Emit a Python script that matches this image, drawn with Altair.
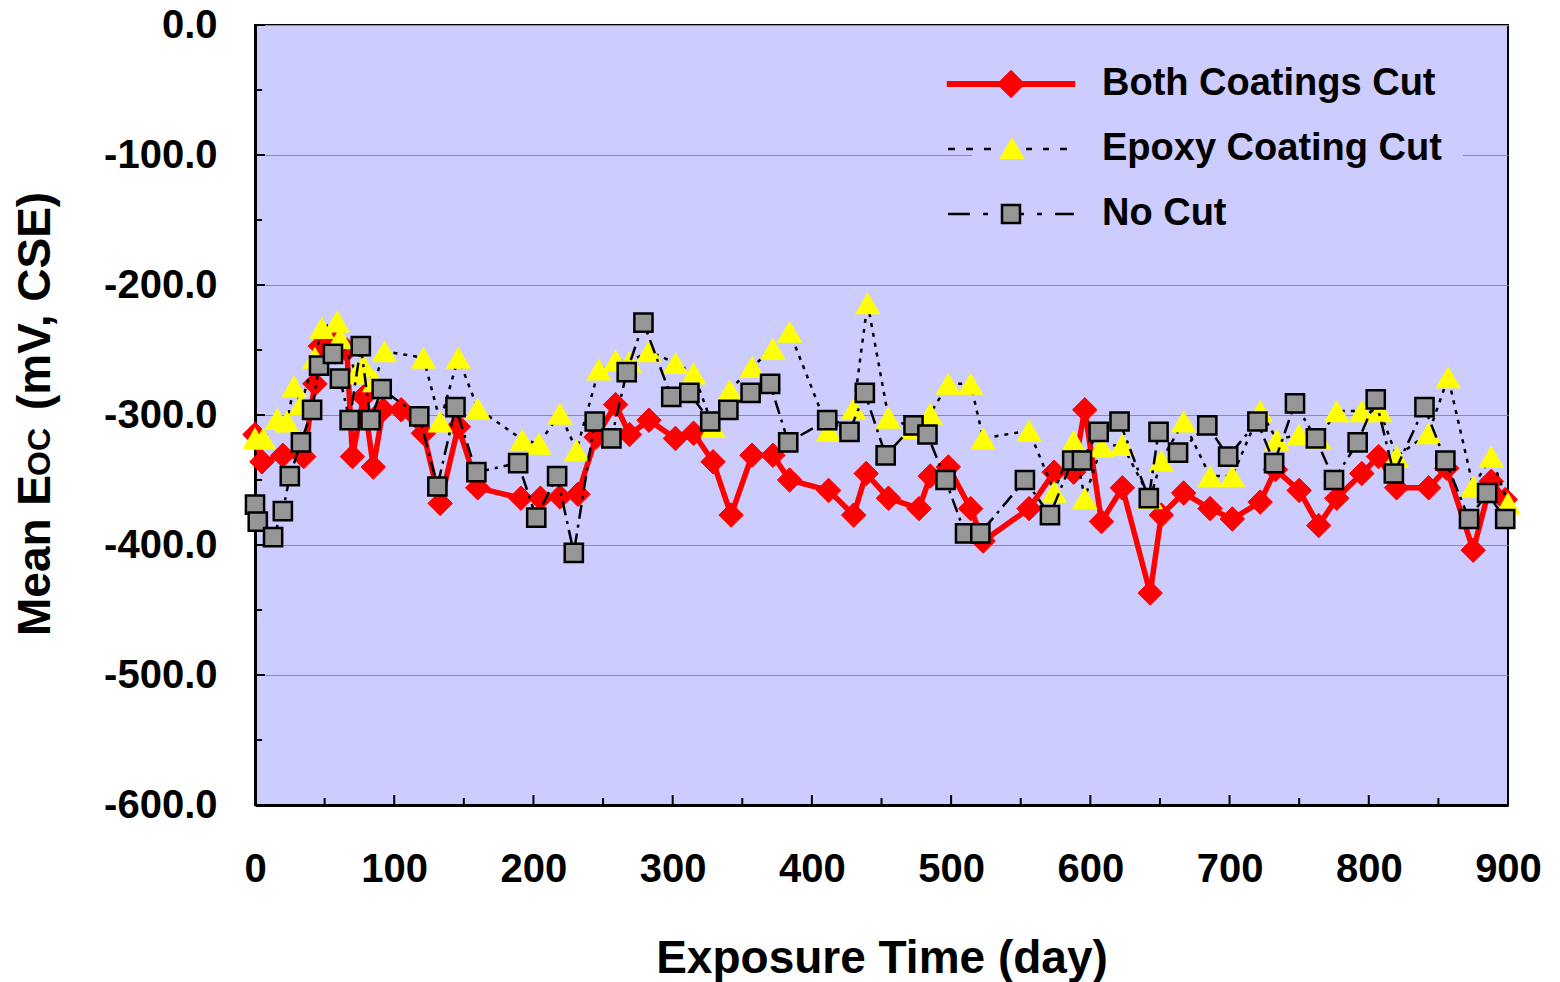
import altair as alt
import pandas as pd

# ---------------- data ----------------
both_day = [0, 5, 20, 35, 43, 47, 58, 66, 70, 78, 85, 92, 105, 121, 133, 146, 160, 191, 205, 219, 232,
            245, 259, 269, 283, 302, 315, 329, 342, 357, 372, 384, 412, 430, 439, 455, 477, 485, 498,
            514, 523, 556, 574, 588, 596, 608, 623, 643, 651, 667, 686, 702, 722, 733, 750, 764, 777,
            795, 807, 820, 843, 856, 875, 888, 898]
both_mv = [-315, -336, -331, -332, -276, -247, -244, -250, -332, -286, -340, -296, -296, -314, -368, -309,
           -356, -364, -364, -363, -361, -317, -292, -315, -304, -318, -314, -336, -377, -331, -331, -350,
           -358, -377, -345, -364, -372, -347, -340, -372, -397, -372, -344, -344, -296, -382, -356, -437,
           -377, -360, -372, -380, -367, -342, -358, -385, -364, -345, -332, -356, -356, -341, -404, -351,
           -365]

epoxy_day = [0, 6, 16, 23, 28, 33, 43, 48, 59, 61, 73, 78, 86, 93, 121, 133, 146, 160, 192, 204, 219,
             231, 247, 259, 269, 283, 302, 315, 329, 341, 357, 372, 384, 412, 430, 440, 455, 473, 485,
             498, 514, 523, 556, 574, 588, 596, 608, 623, 643, 651, 667, 686, 702, 722, 734, 750, 764,
             777, 795, 808, 820, 843, 857, 875, 888, 900]
epoxy_mv = [-318, -318, -303, -305, -278, -292, -256, -233, -228, -241, -268, -262, -274, -251, -256, -305,
            -256, -295, -319, -322, -299, -327, -265, -258, -259, -251, -260, -268, -309, -281, -263, -249,
            -236, -312, -295, -214, -302, -310, -299, -276, -276, -318, -312, -359, -320, -364, -324, -323,
            -364, -335, -305, -347, -347, -297, -319, -315, -318, -297, -297, -297, -332, -314, -271, -355,
            -332, -368]

nocut_day = [0, 2, 13, 20, 25, 33, 41, 46, 56, 61, 68, 76, 83, 91, 118, 131, 144, 159, 189, 202, 217,
             229, 244, 256, 267, 279, 299, 312, 327, 340, 356, 370, 383, 411, 427, 438, 453, 473, 483,
             496, 510, 521, 553, 571, 587, 594, 606, 621, 642, 649, 663, 684, 699, 720, 732, 747, 762,
             775, 792, 805, 818, 840, 855, 872, 885, 898]
nocut_mv = [-369, -382, -394, -374, -347, -321, -296, -262, -253, -272, -304, -247, -304, -280, -301, -355,
            -294, -344, -337, -379, -347, -406, -305, -318, -267, -229, -286, -283, -305, -296, -283, -276,
            -321, -304, -313, -283, -331, -308, -315, -350, -391, -391, -350, -377, -335, -335, -313, -305,
            -364, -313, -329, -308, -332, -305, -337, -291, -318, -350, -321, -288, -345, -294, -335, -380,
            -360, -380]

series_names = ["Both Coatings Cut", "Epoxy Coating Cut", "No Cut"]
x_major = [0, 100, 200, 300, 400, 500, 600, 700, 800, 900]
x_minor = [50, 150, 250, 350, 450, 550, 650, 750, 850]
y_major = [0, -100, -200, -300, -400, -500, -600]
y_minor = [-50, -150, -250, -350, -450, -550]
x_title = "Exposure Time (day)"
y_title_parts = ["Mean E", "OC", "(mV, CSE)"]

# ---------------- styles ----------------
FONT = "Liberation Sans"
BG = "#CCCCFF"
W, H = 1253, 780

df_both = pd.DataFrame({"day": both_day, "mv": both_mv, "series": series_names[0]})
df_epoxy = pd.DataFrame({"day": epoxy_day, "mv": epoxy_mv, "series": series_names[1]})
df_nocut = pd.DataFrame({"day": nocut_day, "mv": nocut_mv, "series": series_names[2]})

x_axis = alt.Axis(values=x_major, format="d", grid=False, ticks=False, tickSize=0,
                  labelFont=FONT, labelFontSize=40, labelFontWeight="bold", labelColor="black",
                  labelPadding=44, labelFlush=False, labelOverlap=False,
                  domainColor="black", domainWidth=3,
                  titleFont=FONT, titleFontSize=46, titleFontWeight="bold", titleColor="black",
                  titleY=153, titleBaseline="middle")
y_axis = alt.Axis(values=y_major, grid=True, gridColor="#8a8aa6", gridWidth=1,
                  ticks=False, tickSize=0,
                  labelExpr="datum.value == 0 ? '0.0' : '-' + format(abs(datum.value), '.1f')",
                  labelFont=FONT, labelFontSize=40, labelFontWeight="bold", labelColor="black",
                  labelPadding=38, labelFlush=False, labelOverlap=False,
                  domainColor="black", domainWidth=3, title=None)

x_enc = alt.X("day:Q", scale=alt.Scale(domain=[0, 900], nice=False, zero=False),
              axis=x_axis, title=x_title)
y_enc = alt.Y("mv:Q", scale=alt.Scale(domain=[-600, 0], nice=False, zero=False), axis=y_axis)

layers = []
# Both coatings cut
layers.append(alt.Chart(df_both).mark_line(color="#FF0000", strokeWidth=5.5)
              .encode(x=x_enc, y=y_enc))
layers.append(alt.Chart(df_both).mark_point(shape="diamond", filled=True, size=600, opacity=1,
                                             fill="#FF0000", stroke="#FF0000", strokeWidth=1)
              .encode(x=x_enc, y=y_enc))
# Epoxy coating cut
layers.append(alt.Chart(df_epoxy).mark_line(color="black", strokeWidth=2.5, strokeDash=[4, 6])
              .encode(x=x_enc, y=y_enc))
layers.append(alt.Chart(df_epoxy).mark_point(shape="triangle-up", filled=True, size=650, opacity=1,
                                              fill="#FFFF00", strokeWidth=0)
              .encode(x=x_enc, y=y_enc))
# No cut
layers.append(alt.Chart(df_nocut).mark_line(color="black", strokeWidth=2.5, strokeDash=[14, 6, 3, 6])
              .encode(x=x_enc, y=y_enc))
layers.append(alt.Chart(df_nocut).mark_point(shape="square", filled=True, size=330, opacity=1,
                                              fill="#969696", stroke="black", strokeWidth=2.5)
              .encode(x=x_enc, y=y_enc))

# inward tick marks
layers.append(alt.Chart(pd.DataFrame({"day": x_major})).mark_rule(color="black", strokeWidth=2)
              .encode(x=x_enc, y=alt.value(H), y2=alt.value(H - 10)))
layers.append(alt.Chart(pd.DataFrame({"day": x_minor})).mark_rule(color="black", strokeWidth=2)
              .encode(x=x_enc, y=alt.value(H), y2=alt.value(H - 7)))
layers.append(alt.Chart(pd.DataFrame({"mv": y_major})).mark_rule(color="black", strokeWidth=2)
              .encode(y=y_enc, x=alt.value(0), x2=alt.value(10)))
layers.append(alt.Chart(pd.DataFrame({"mv": y_minor})).mark_rule(color="black", strokeWidth=2)
              .encode(y=y_enc, x=alt.value(0), x2=alt.value(7)))

# y-axis title (small "OC" on the same baseline)
title_specs = [(y_title_parts[0], 46, -205, 611),
               (y_title_parts[1], 32, -205, 451),
               (y_title_parts[2], 46, -205, 385)]
for txt, fs, xx, yy in title_specs:
    layers.append(alt.Chart(pd.DataFrame({"t": [txt]}))
                  .mark_text(angle=270, align="left", baseline="alphabetic", font=FONT,
                             fontSize=fs, fontWeight="bold", color="black")
                  .encode(text="t:N", x=alt.value(xx), y=alt.value(yy)))

# legend (custom symbols: line + marker); the epoxy triangle is an overlay legend
sym_both = "M-6.3,-0.17H6.3V0.17H-6.3Z M0,-1.25L1.25,0L0,1.25L-1.25,0Z"
sym_epoxy = "M-6.3,0H-5.6 M-4.5,0H-3.8 M-2.7,0H-2.0 M1.5,0H2.1 M3.2,0H3.8 M4.9,0H5.6"
sym_nocut = ("M-6.3,0H-4.1 M-2.8,0H-2.3 M1.0,0H1.3 M2.6,0H3.1 M4.4,0H6.3 "
             "M-0.9,-0.9H0.9V0.9H-0.9Z")
legend = alt.Legend(title=None, orient="none", legendX=717, legendY=20,
                    symbolSize=400, symbolStrokeWidth=2.5, symbolOpacity=1,
                    labelFont=FONT, labelFontSize=38, labelFontWeight="bold", labelColor="black",
                    labelOffset=72, labelLimit=800, rowPadding=27, padding=20,
                    fillColor=BG, strokeColor=BG)
tri_legend = alt.Legend(title=None, orient="none", legendX=744, legendY=110,
                        symbolType="triangle-up", symbolSize=650, symbolFillColor="#FFFF00",
                        symbolStrokeColor="#FFFF00", symbolStrokeWidth=0, symbolOpacity=1,
                        labelExpr="''", labelFontSize=1, labelOffset=0, padding=0)
dom = series_names
legend_df = pd.concat([df_both, df_epoxy, df_nocut]).assign(marker="m")
layers.append(alt.Chart(legend_df)
              .transform_filter("datum.day < -1000")
              .mark_point(opacity=1, strokeWidth=2.5)
              .encode(x=x_enc, y=y_enc,
                      shape=alt.Shape("series:N", scale=alt.Scale(domain=dom, range=[sym_both, sym_epoxy, sym_nocut]), legend=legend),
                      fill=alt.Fill("series:N", scale=alt.Scale(domain=dom, range=["#FF0000", "#FFFF00", "#969696"]), legend=legend),
                      stroke=alt.Stroke("series:N", scale=alt.Scale(domain=dom, range=["#FF0000", "black", "black"]), legend=legend),
                      opacity=alt.Opacity("marker:N", scale=alt.Scale(domain=["m"], range=[1]), legend=tri_legend)))

chart = (alt.layer(*layers)
         .properties(width=W, height=H, background="white",
                     padding={"left": 255, "top": 25, "right": 52, "bottom": 177},
                     autosize=alt.AutoSizeParams(type="none"))
         .configure_view(fill=BG, stroke="black", strokeWidth=2))

chart.save("out.html", embed_options={"renderer": "svg", "actions": False})
